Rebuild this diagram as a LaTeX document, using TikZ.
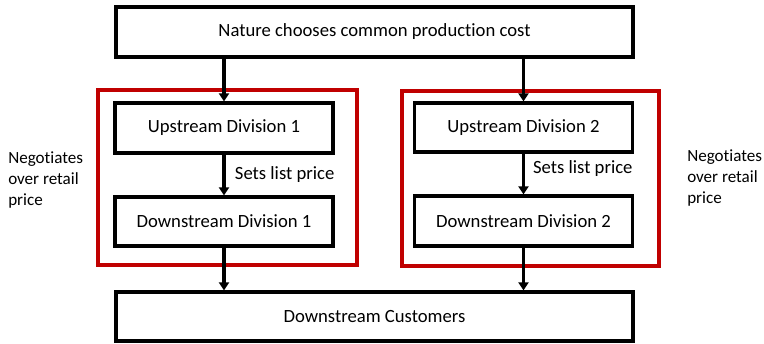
\documentclass[tikz,border=0pt]{standalone}
\usepackage{fontspec}
\setmainfont[Ligatures=NoCommon]{Carlito}
\usetikzlibrary{arrows.meta}
\definecolor{boxred}{RGB}{192,0,0}
\tikzset{
  blk/.style={draw=black, line width=2.4pt, fill=white, inner sep=0pt, font=\fontsize{14pt}{16pt}\selectfont},
  grp/.style={draw=boxred, line width=2.3pt},
  arr/.style={line width=2.4pt, -{Triangle[width=7.5pt,length=6pt]}},
  lbl/.style={font=\fontsize{14pt}{16pt}\selectfont, inner sep=0pt},
  side/.style={font=\fontsize{12.8pt}{15.4pt}\selectfont, align=left, inner sep=0pt}
}
\begin{document}
\begin{tikzpicture}[x=0.75pt,y=-0.75pt]
\useasboundingbox (0,0) rectangle (764,343);
% red group boxes
\draw[grp] (98,90) rectangle (357,265);
\draw[grp] (402,91) rectangle (659,266);
% boxes
\node[blk, minimum width=517*0.75pt, minimum height=50*0.75pt] (top) at (374.5,32) {Nature chooses common production cost};
\node[blk, minimum width=218*0.75pt, minimum height=50*0.75pt] (up1) at (224,128) {Upstream Division 1};
\node[blk, minimum width=218*0.75pt, minimum height=49*0.75pt] (dn1) at (224,221.5) {Downstream Division 1};
\node[blk, minimum width=218*0.75pt, minimum height=49*0.75pt] (up2) at (523.5,127.5) {Upstream Division 2};
\node[blk, minimum width=218*0.75pt, minimum height=50*0.75pt] (dn2) at (523.5,221) {Downstream Division 2};
\node[blk, minimum width=517*0.75pt, minimum height=49*0.75pt] (bot) at (374.5,316.5) {Downstream Customers};
% arrows
\draw[arr] (top.south -| up1.north) -- (up1.north);
\draw[arr] (top.south -| up2.north) -- (up2.north);
\draw[arr] (up1.south) -- node[lbl, right=7pt] (l1) {Sets list price} (dn1.north);
\draw[arr] (up2.south) -- node[lbl, right=6pt, yshift=4pt] (l2) {Sets list price} (dn2.north);
\draw[arr] (dn1.south) -- (bot.north -| dn1.south);
\draw[arr] (dn2.south) -- (bot.north -| dn2.south);
% side labels
\node[side, anchor=west] (nl) at (8,180) {Negotiates\\over retail\\price};
\node[side, anchor=west] (nr) at (687,178) {Negotiates\\over retail\\price};
\end{tikzpicture}
\end{document}
